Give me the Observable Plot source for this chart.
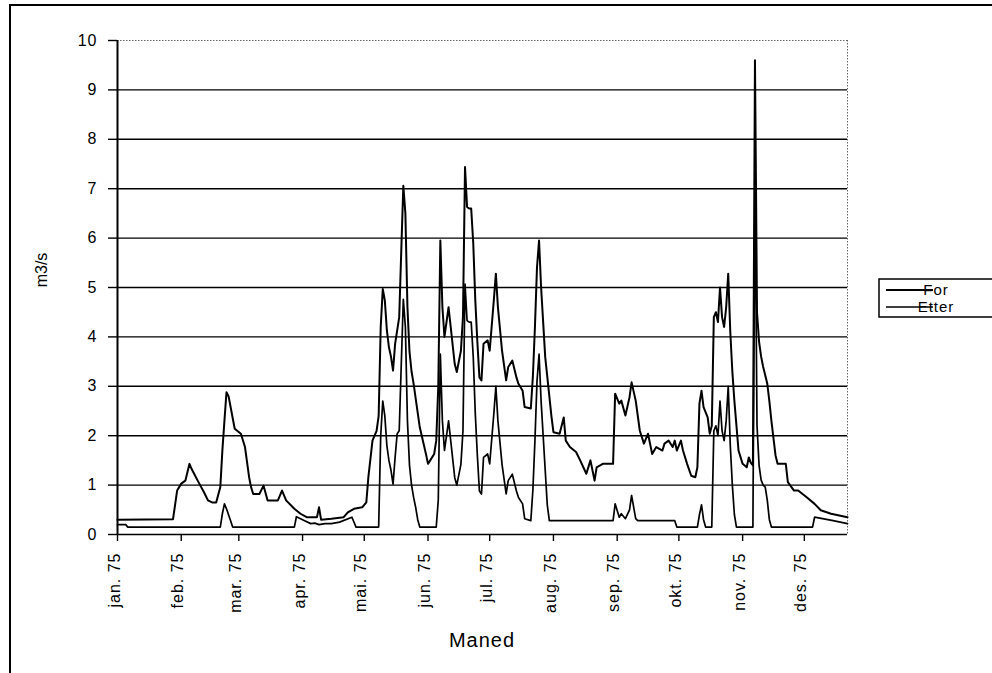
<!DOCTYPE html>
<html><head><meta charset="utf-8">
<script src="https://cdn.jsdelivr.net/npm/d3@7"></script>
<script src="https://cdn.jsdelivr.net/npm/@observablehq/plot@0.6"></script>
<style>html,body{margin:0;padding:0;background:#fff}</style>
</head><body><div id="chart"></div>
<script>
// ---- data ----
const monthLabels = ["jan. 75","feb. 75","mar. 75","apr. 75","mai. 75","jun. 75","jul. 75","aug. 75","sep. 75","okt. 75","nov. 75","des. 75"];
const yTicks = [0,1,2,3,4,5,6,7,8,9,10];
const gridValues = [1,2,3,4,5,6,7,8,9];
const seriesNames = ["For","Etter"];
const yTitle = "m3/s";
const xTitle = "Maned";
const lastDay = 355; // day-of-year where the axis ends

// "For" (day of year, m3/s)
const forDay = [0,27,29,31,33,35,36,39,42,44,46,48,50,51,52,53,54,55,57,60,62,64,65,66,69,71,73,78,80,82,86,89,92,97,98,99,104,110,112,115,119,121,122,124,126,127,128,129,130,131,132,133,134,135,137,138,139,140,141,142,143,144,147,150,151,154,155,156,157,158,159,161,164,165,167,168,169,170,171,172,173,174,175,176,177,178,180,181,183,184,185,187,189,190,192,194,195,197,198,201,202,203,204,205,206,207,208,210,211,212,215,217,218,220,223,225,228,230,232,233,236,238,241,242,244,245,247,249,250,252,254,256,258,260,262,265,266,268,270,271,272,274,275,277,279,281,282,283,284,285,287,288,289,290,291,292,293,294,295,296,297,298,299,300,302,304,306,307,308,309,310,311,312,313,314,316,317,318,320,321,325,326,329,331,335,339,342,347,355];
const forVal = [0.3,0.31,0.89,1.03,1.09,1.43,1.33,1.09,0.86,0.69,0.65,0.65,0.96,1.7,2.3,2.88,2.8,2.58,2.14,2.04,1.77,1.16,0.95,0.82,0.82,0.99,0.69,0.69,0.89,0.69,0.52,0.42,0.35,0.35,0.55,0.3,0.32,0.35,0.45,0.52,0.55,0.65,1.16,1.9,2.1,2.4,4.2,4.97,4.74,4.13,3.79,3.6,3.32,3.86,4.4,5.75,7.06,6.5,4.6,3.7,3.3,3.05,2.17,1.63,1.43,1.63,1.9,3.0,5.95,4.6,4.0,4.6,3.45,3.29,3.72,4.4,7.44,6.63,6.6,6.6,5.9,4.74,3.9,3.18,3.12,3.86,3.93,3.72,4.74,5.28,4.6,3.72,3.12,3.39,3.52,3.18,3.05,2.91,2.58,2.55,3.2,4.2,5.41,5.95,5.0,4.3,3.59,2.8,2.4,2.07,2.04,2.37,1.9,1.77,1.67,1.5,1.23,1.5,1.09,1.36,1.43,1.43,1.43,2.85,2.65,2.71,2.41,2.78,3.08,2.71,2.1,1.84,2.04,1.63,1.77,1.7,1.84,1.9,1.77,1.9,1.7,1.9,1.7,1.43,1.19,1.16,1.36,2.65,2.91,2.58,2.37,2.04,2.2,4.4,4.5,4.3,5.0,4.4,4.2,4.6,5.28,4.1,3.3,2.7,1.7,1.43,1.36,1.56,1.45,1.4,9.6,4.5,3.9,3.6,3.39,3.05,2.7,2.3,1.6,1.43,1.43,1.06,0.89,0.89,0.76,0.62,0.49,0.42,0.35];

// "Etter" (day of year, m3/s)
const etterDay = [0,4,5,50,51,52,53,55,56,86,87,89,91,94,96,98,101,104,108,114,116,127,128,129,130,131,132,133,134,135,136,137,138,139,140,141,142,143,144,145,146,147,155,156,157,158,159,161,164,165,167,168,169,170,171,172,173,174,175,176,177,178,180,181,183,184,185,187,189,190,192,194,195,197,198,201,202,203,204,205,206,207,208,209,210,241,242,244,245,247,249,250,252,253,271,272,282,283,284,285,286,289,290,291,292,293,294,295,296,297,298,299,300,301,309,310,311,312,313,314,315,316,317,318,338,339,348,355];
const etterVal = [0.2,0.2,0.15,0.15,0.42,0.62,0.52,0.28,0.15,0.15,0.36,0.32,0.28,0.22,0.23,0.2,0.22,0.22,0.25,0.35,0.15,0.15,2.0,2.7,2.4,1.8,1.5,1.3,1.02,1.56,2.04,2.1,3.45,4.76,4.2,2.3,1.4,1.0,0.75,0.55,0.3,0.15,0.15,0.7,3.65,2.3,1.7,2.3,1.15,1.0,1.42,2.1,5.07,4.33,4.3,4.3,3.6,2.44,1.6,0.88,0.82,1.56,1.63,1.43,2.44,3.0,2.3,1.42,0.82,1.09,1.22,0.88,0.75,0.62,0.32,0.28,0.9,1.9,3.1,3.65,2.7,2.0,1.3,0.6,0.28,0.28,0.62,0.35,0.42,0.32,0.5,0.79,0.32,0.28,0.28,0.15,0.15,0.4,0.6,0.3,0.15,0.15,2.1,2.2,2.0,2.7,2.1,1.9,2.3,3.0,1.8,1.0,0.4,0.15,0.15,7.3,2.2,1.4,1.1,1.0,0.96,0.69,0.3,0.15,0.15,0.35,0.28,0.22];

// ---- build ----
const t0 = Date.UTC(1975, 0, 1);
const toDate = d => new Date(t0 + d * 86400000);
const forData = forDay.map((d, i) => ({date: toDate(d), v: forVal[i]}));
const etterData = etterDay.map((d, i) => ({date: toDate(d), v: etterVal[i]}));
const monthDates = monthLabels.map((_, i) => new Date(Date.UTC(1975, i, 1)));
const font = "'Liberation Sans', Arial, sans-serif";

const W = 992, H = 673;
const plot = Plot.plot({
  width: W, height: H,
  marginLeft: 117, marginRight: 145, marginTop: 40, marginBottom: 139,
  style: {background: "#fff", color: "#000", fontFamily: font, fontSize: "16px"},
  x: {type: "utc", domain: [toDate(0), toDate(lastDay)]},
  y: {domain: [0, 10]},
  marks: [
    Plot.ruleY(gridValues, {stroke: "#000", strokeWidth: 1.4}),
    Plot.ruleY([10], {stroke: "#666", strokeWidth: 1, strokeDasharray: "1.5,1.5"}),
    Plot.ruleX([toDate(lastDay)], {stroke: "#666", strokeWidth: 1, strokeDasharray: "1.5,1.5"}),
    Plot.line(etterData, {x: "date", y: "v", stroke: "#000", strokeWidth: 1.7, strokeLinejoin: "round"}),
    Plot.line(forData, {x: "date", y: "v", stroke: "#000", strokeWidth: 2, strokeLinejoin: "round"}),
    Plot.ruleY([0], {stroke: "#000", strokeWidth: 1.6}),
    Plot.ruleX([toDate(0)], {stroke: "#000", strokeWidth: 2}),
    Plot.axisY({ticks: yTicks, tickSize: 9, tickPadding: 11, tickFormat: d => String(d), label: null, fontSize: 16, strokeWidth: 1.4}),
    Plot.axisX({ticks: monthDates, tickSize: 7, tickFormat: () => "", label: null, strokeWidth: 1.4}),
    Plot.text(monthDates, {x: d => d, frameAnchor: "bottom", text: d => monthLabels[d.getUTCMonth()],
      rotate: -90, textAnchor: "end", lineAnchor: "middle", dy: 18, dx: -3, fontSize: 16, fill: "#000"})
  ]
});
document.getElementById("chart").appendChild(plot);

const svg = d3.select(plot);
svg.selectAll("text").style("letter-spacing", "1px");
// outer chart border
svg.append("rect").attr("x", 10).attr("y", 5).attr("width", 995).attr("height", 690)
  .attr("fill", "none").attr("stroke", "#000").attr("stroke-width", 2);
// axis titles
svg.append("text").attr("x", 482).attr("y", 647).attr("text-anchor", "middle")
  .style("font-family", font).style("font-size", "20px").style("letter-spacing", "1px").text(xTitle);
svg.append("text").attr("transform", "translate(47,270) rotate(-90)").attr("text-anchor", "middle")
  .style("font-family", font).style("font-size", "16px").text(yTitle);
// legend
const lg = svg.append("g");
lg.append("rect").attr("x", 879).attr("y", 279).attr("width", 125).attr("height", 38)
  .attr("fill", "#fff").attr("stroke", "#000").attr("stroke-width", 1.5);
seriesNames.forEach((name, i) => {
  const y = 290 + i * 17;
  lg.append("line").attr("x1", 886).attr("x2", 933).attr("y1", y).attr("y2", y)
    .attr("stroke", "#000").attr("stroke-width", i === 0 ? 2 : 1.6);
  lg.append("text").attr("x", 936).attr("y", y).attr("dy", "0.35em")
    .style("font-family", font).style("font-size", "15px").style("letter-spacing", "1px").text(name);
});
</script>
</body></html>
